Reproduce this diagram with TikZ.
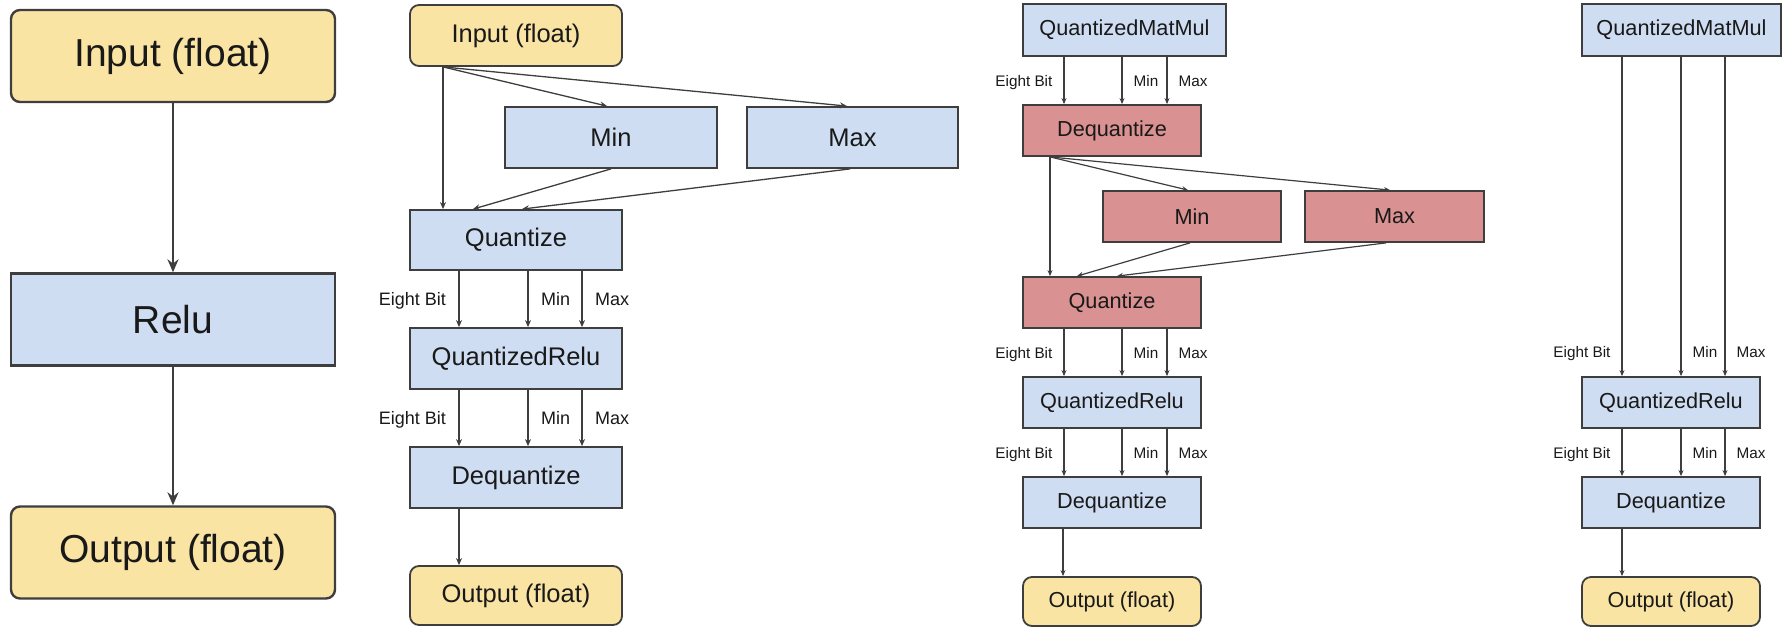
\documentclass[tikz,border=0pt]{standalone}
\usepackage{fontspec}
\setmainfont{Liberation Sans}
\usetikzlibrary{arrows.meta,positioning,calc}
\definecolor{ioyellow}{RGB}{250,228,163}
\definecolor{opblue}{RGB}{207,221,242}
\definecolor{opred}{RGB}{217,145,145}
\definecolor{edgegray}{RGB}{62,62,62}
\definecolor{txtgray}{RGB}{25,25,25}

\begin{document}
\begin{tikzpicture}[x=1pt, y=-1pt,
    basebox/.style={rectangle, draw=edgegray, line width=1.8pt, inner sep=0pt, text=txtgray},
    iobox/.style={basebox, fill=ioyellow, rounded corners=9pt},
    opbox/.style={basebox, fill=opblue},
    redbox/.style={basebox, fill=opred},
    bigbox/.style={minimum width=324pt, minimum height=92pt, line width=2.4pt, font=\fontsize{39}{45}\selectfont},
    midbox/.style={minimum width=212pt, minimum height=61pt, font=\fontsize{25.5}{30}\selectfont},
    smallbox/.style={minimum width=178pt, minimum height=51pt, font=\fontsize{21.7}{26}\selectfont},
    bigarrow/.style={draw=edgegray, line width=2pt, -{Stealth[length=13pt,width=11pt]}},
    arrow/.style={draw=edgegray, line width=1.3pt, -{Stealth[length=7pt,width=6pt]}},
    thinarrow/.style={draw=edgegray, line width=1.2pt, -{Stealth[length=6pt,width=5pt]}},
    lbl/.style={font=\fontsize{18}{21}\selectfont, inner sep=12.5pt, text height=13pt, text depth=0pt, text=txtgray},
    slbl/.style={font=\fontsize{15.3}{18}\selectfont, inner sep=11pt, text height=11pt, text depth=0pt, text=txtgray}
]
\useasboundingbox (0,0) rectangle (1782,627);

% Float graph
\node[iobox, bigbox] (in1) at (173,56) {Input (float)};
\node[opbox, bigbox] (relu1) at (173,319.5) {Relu};
\node[iobox, bigbox] (out1) at (173,552.5) {Output (float)};
\draw[bigarrow] (in1) -- (relu1);
\draw[bigarrow] (relu1) -- (out1);

% Quantized graph
\node[iobox, midbox] (in2) at (516,35.5) {Input (float)};
\node[opbox, midbox] (min2) at (611,137.5) {Min};
\node[opbox, midbox, minimum width=211pt] (max2) at (852.5,137.5) {Max};
\node[opbox, midbox, minimum height=60pt] (quant2) at (516,240) {Quantize};
\node[opbox, midbox] (qrelu2) at (516,358.5) {QuantizedRelu};
\node[opbox, midbox] (deq2) at (516,477.5) {Dequantize};
\node[iobox, midbox, minimum height=59pt] (out2) at (516,595.5) {Output (float)};

\draw[arrow] (443,0 |- in2.south) -- (443,0 |- quant2.north);
\draw[arrow] (443,0 |- in2.south) -- (607,0 |- min2.north);
\draw[arrow] (443,0 |- in2.south) -- (847,0 |- max2.north);
\draw[arrow] (min2.south) -- (473,0 |- quant2.north);
\draw[arrow] (850,0 |- max2.south) -- (522,0 |- quant2.north);

\draw[arrow] (459,0 |- quant2.south) -- node[lbl, left] {Eight Bit} (459,0 |- qrelu2.north);
\draw[arrow] (528,0 |- quant2.south) -- node[lbl, right] {Min} (528,0 |- qrelu2.north);
\draw[arrow] (582,0 |- quant2.south) -- node[lbl, right] {Max} (582,0 |- qrelu2.north);
\draw[arrow] (459,0 |- qrelu2.south) -- node[lbl, left] {Eight Bit} (459,0 |- deq2.north);
\draw[arrow] (528,0 |- qrelu2.south) -- node[lbl, right] {Min} (528,0 |- deq2.north);
\draw[arrow] (582,0 |- qrelu2.south) -- node[lbl, right] {Max} (582,0 |- deq2.north);
\draw[arrow] (459,0 |- deq2.south) -- (459,0 |- out2.north);

% After MatMul, with requantize
\node[opbox, smallbox, minimum width=203pt, minimum height=52pt] (qmm3) at (1124.5,30) {QuantizedMatMul};
\node[redbox, smallbox] (deq3) at (1112,130.5) {Dequantize};
\node[redbox, smallbox] (min3) at (1192,216.5) {Min};
\node[redbox, smallbox, minimum width=179pt] (max3) at (1394.5,216.5) {Max};
\node[redbox, smallbox] (quant3) at (1112,302.5) {Quantize};
\node[opbox, smallbox] (qrelu3) at (1112,402.5) {QuantizedRelu};
\node[opbox, smallbox] (deq3b) at (1112,502.5) {Dequantize};
\node[iobox, smallbox, minimum height=49pt] (out3) at (1112,601.5) {Output (float)};

\draw[thinarrow] (1064,0 |- qmm3.south) -- node[slbl, left] {Eight Bit} (1064,0 |- deq3.north);
\draw[thinarrow] (1122,0 |- qmm3.south) -- node[slbl, right] {Min} (1122,0 |- deq3.north);
\draw[thinarrow] (1167,0 |- qmm3.south) -- node[slbl, right] {Max} (1167,0 |- deq3.north);

\draw[thinarrow] (1050,0 |- deq3.south) -- (1050,0 |- quant3.north);
\draw[thinarrow] (1050,0 |- deq3.south) -- (1188,0 |- min3.north);
\draw[thinarrow] (1050,0 |- deq3.south) -- (1390,0 |- max3.north);
\draw[thinarrow] (1190,0 |- min3.south) -- (1077,0 |- quant3.north);
\draw[thinarrow] (1386,0 |- max3.south) -- (1117,0 |- quant3.north);

\draw[thinarrow] (1064,0 |- quant3.south) -- node[slbl, left] {Eight Bit} (1064,0 |- qrelu3.north);
\draw[thinarrow] (1122,0 |- quant3.south) -- node[slbl, right] {Min} (1122,0 |- qrelu3.north);
\draw[thinarrow] (1167,0 |- quant3.south) -- node[slbl, right] {Max} (1167,0 |- qrelu3.north);
\draw[thinarrow] (1064,0 |- qrelu3.south) -- node[slbl, left] {Eight Bit} (1064,0 |- deq3b.north);
\draw[thinarrow] (1122,0 |- qrelu3.south) -- node[slbl, right] {Min} (1122,0 |- deq3b.north);
\draw[thinarrow] (1167,0 |- qrelu3.south) -- node[slbl, right] {Max} (1167,0 |- deq3b.north);
\draw[thinarrow] (1063,0 |- deq3b.south) -- (1063,0 |- out3.north);

% After MatMul, requantize removed
\node[opbox, smallbox, minimum width=199pt, minimum height=52pt] (qmm4) at (1681.5,30) {QuantizedMatMul};
\node[opbox, smallbox] (qrelu4) at (1671,402.5) {QuantizedRelu};
\node[opbox, smallbox] (deq4) at (1671,502.5) {Dequantize};
\node[iobox, smallbox, minimum height=49pt] (out4) at (1671,601.5) {Output (float)};

\draw[thinarrow] (1622,0 |- qmm4.south) -- node[slbl, left, pos=0.925] {Eight Bit} (1622,0 |- qrelu4.north);
\draw[thinarrow] (1681,0 |- qmm4.south) -- node[slbl, right, pos=0.925] {Min} (1681,0 |- qrelu4.north);
\draw[thinarrow] (1725,0 |- qmm4.south) -- node[slbl, right, pos=0.925] {Max} (1725,0 |- qrelu4.north);
\draw[thinarrow] (1622,0 |- qrelu4.south) -- node[slbl, left] {Eight Bit} (1622,0 |- deq4.north);
\draw[thinarrow] (1681,0 |- qrelu4.south) -- node[slbl, right] {Min} (1681,0 |- deq4.north);
\draw[thinarrow] (1725,0 |- qrelu4.south) -- node[slbl, right] {Max} (1725,0 |- deq4.north);
\draw[thinarrow] (1622,0 |- deq4.south) -- (1622,0 |- out4.north);

\end{tikzpicture}
\end{document}
